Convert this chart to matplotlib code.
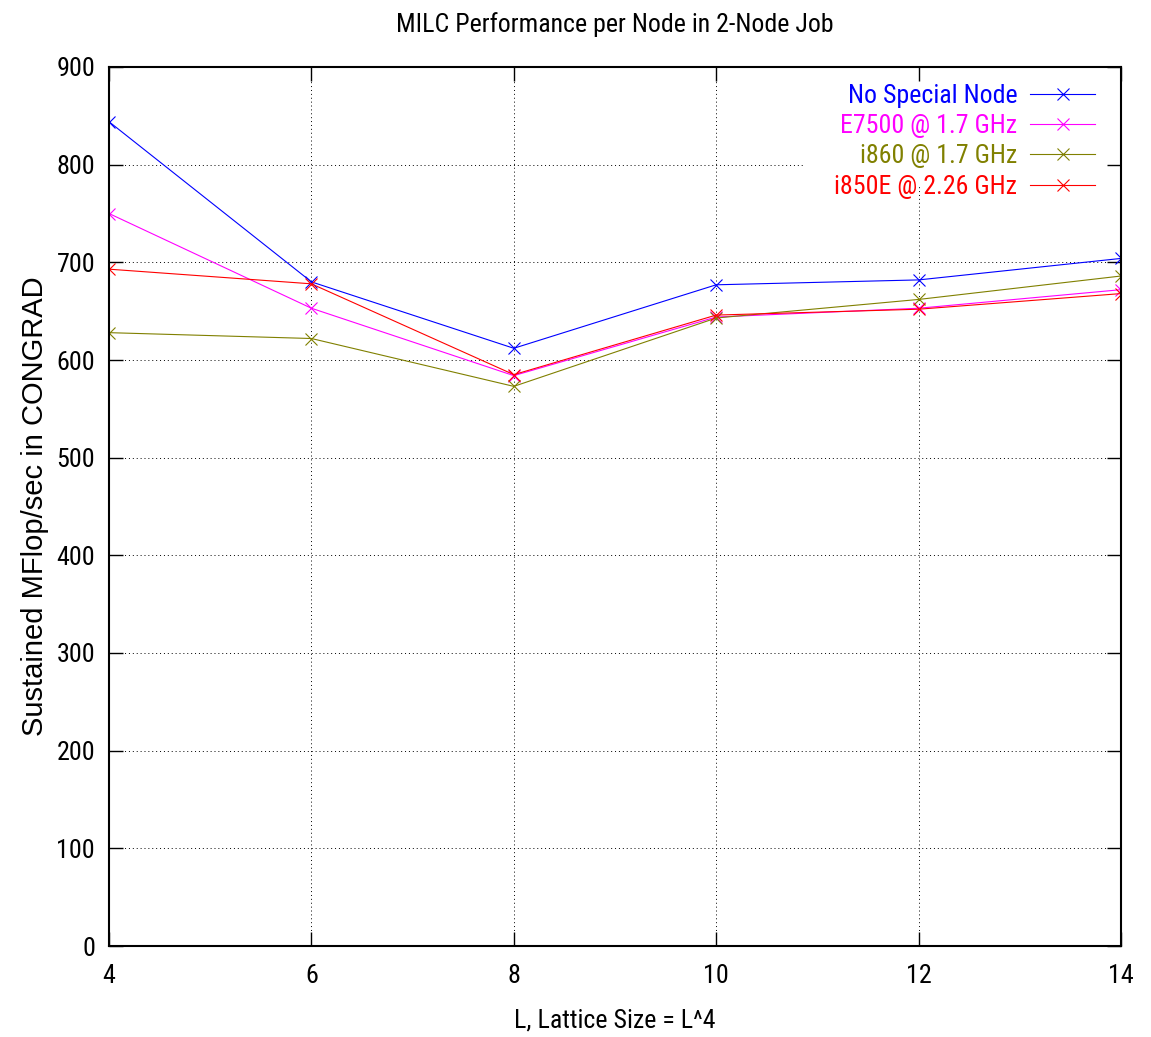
import matplotlib
matplotlib.use("Agg")
import matplotlib.pyplot as plt
from matplotlib import font_manager
from matplotlib.patches import Rectangle

# lattice sizes and measured MFlop/sec per node
lattice = [4, 6, 8, 10, 12, 14]
yticks = [0, 100, 200, 300, 400, 500, 600, 700, 800, 900]
no_special = [844, 680, 612, 677, 682, 704]
e7500 = [750, 653, 584, 644, 653, 672]
i860 = [628, 622, 573, 643, 662, 686]
i850e = [693, 678, 585, 646, 652, 668]

series = [
    ("No Special Node", no_special, "#0000ff"),
    ("E7500 @ 1.7 GHz", e7500, "#ff00ff"),
    ("i860 @ 1.7 GHz", i860, "#808000"),
    ("i850E @ 2.26 GHz", i850e, "#ff0000"),
]

all_fonts = font_manager.findSystemFonts()


def find_font(stems):
    # look the font file up directly, the family name is not reliable
    for stem in stems:
        for path in all_fonts:
            fn = path.split("/")[-1].lower()
            if fn.startswith(stem.lower()):
                return path
    return None


narrow_path = find_font(["LiberationSansNarrow-Regular", "RobotoCondensed-Regular",
                         "Roboto_Condensed-Regular", "NotoSans-Condensed.",
                         "NotoSans-CondensedRegular", "DejaVuSansCondensed."])
regular_path = find_font(["LiberationSans-Regular"])


def narrow(size):
    if narrow_path:
        return font_manager.FontProperties(fname=narrow_path, size=size)
    return font_manager.FontProperties(family="DejaVu Sans", stretch="condensed", size=size)


def regular(size):
    if regular_path:
        return font_manager.FontProperties(fname=regular_path, size=size)
    return font_manager.FontProperties(family="Liberation Sans", size=size)


fig = plt.figure(figsize=(11.51, 10.37), dpi=100)
ax = fig.add_axes([109 / 1151, 1 - 946 / 1037, (1121 - 109) / 1151, (946 - 67) / 1037])

# dotted grid drawn by hand so the legend box can hide part of it
for xv in lattice:
    ax.axvline(xv, color="black", lw=0.7, linestyle=(0, (1, 3)), zorder=0.5)
for yv in yticks:
    ax.axhline(yv, color="black", lw=0.7, linestyle=(0, (1, 3)), zorder=0.5)
ax.add_patch(Rectangle((0.686, 0.8635), 0.314, 0.13, transform=ax.transAxes,
                       facecolor="white", edgecolor="none", zorder=0.7))

for name, vals, col in series:
    ax.plot(lattice, vals, color=col, lw=0.8, marker="x", markersize=8.5,
            markeredgewidth=0.8, label=name)

ax.set_xlim(4, 14)
ax.set_ylim(0, 900)
ax.set_xticks(lattice)
ax.set_yticks(yticks)
ax.tick_params(direction="in", length=10, width=1.0, top=True, right=True)
ax.tick_params(axis="x", pad=13)
ax.tick_params(axis="y", pad=10)
for lab in ax.get_xticklabels() + ax.get_yticklabels():
    lab.set_fontproperties(narrow(18.8))
for sp in ax.spines.values():
    sp.set_linewidth(1.5)

ax.set_title("MILC Performance per Node in 2-Node Job", fontproperties=narrow(18.6), pad=25)
ax.set_xlabel("L, Lattice Size = L^4", fontproperties=narrow(18.6), labelpad=15)
ax.set_ylabel("Sustained MFlop/sec in CONGRAD", fontproperties=regular(21), labelpad=5)

leg = ax.legend(loc="upper right", bbox_to_anchor=(1 - 26 / 1012, 1 - 17 / 879),
                markerfirst=False, frameon=False, prop=narrow(18.6),
                handlelength=2.5, labelspacing=0.24, borderpad=0,
                borderaxespad=0, handletextpad=0.5)
for txt, (_, _, col) in zip(leg.get_texts(), series):
    txt.set_color(col)

fig.savefig("out.png", dpi=100)
